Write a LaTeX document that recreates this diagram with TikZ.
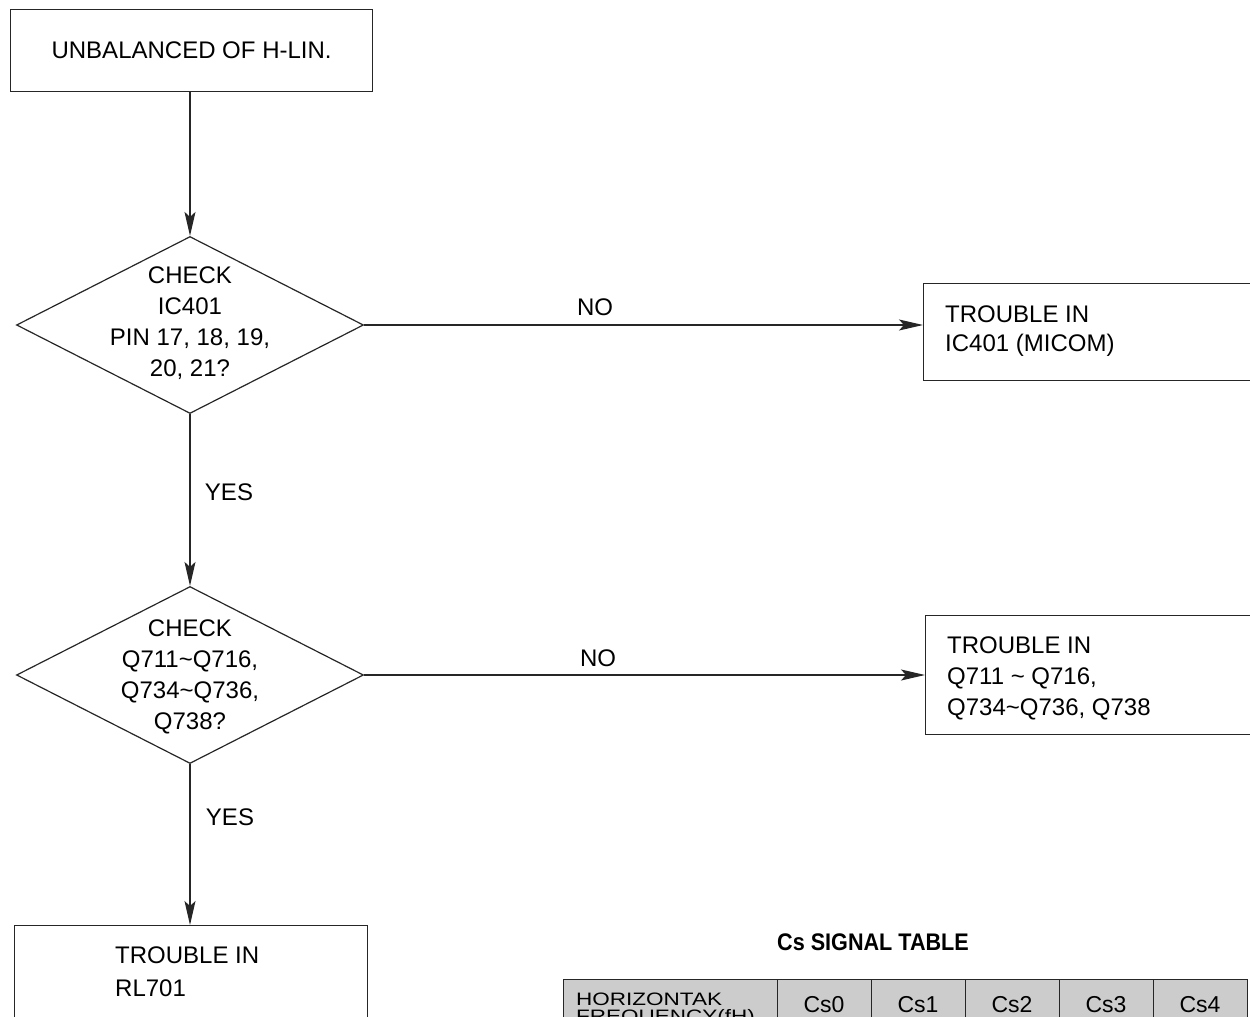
\documentclass[tikz,border=0pt]{standalone}
\usepackage{fontspec}
\setmainfont{Liberation Sans}
\usetikzlibrary{shapes.geometric,arrows.meta}
\begin{document}
\begin{tikzpicture}[x=1pt,y=-1pt,
  ln/.style={line width=1.2pt, draw=black!85},
  arr/.style={ln, -{Stealth[length=24pt,width=11pt,inset=5pt]}},
  box/.style={ln, rectangle, inner sep=0pt, anchor=north west},
  diam/.style={ln, diamond, inner sep=0pt, minimum width=347pt, minimum height=177pt},
  txt/.style={font=\fontsize{24}{31}\selectfont, inner sep=0pt, align=center},
  ltxt/.style={font=\fontsize{24}{30}\selectfont, inner sep=0pt, align=left, anchor=west},
  lbl/.style={font=\fontsize{24}{30}\selectfont, inner sep=0pt},
  cell/.style={ln, fill=black!20, rectangle, inner sep=0pt, anchor=north west, minimum height=90pt},
  celltxt/.style={font=\fontsize{23}{26}\selectfont, inner sep=0pt},
]
\useasboundingbox (0,0) rectangle (1250,1017);
\clip (0,0) rectangle (1250,1017);

% top box
\node[box, minimum width=362pt, minimum height=82pt] (top) at (10,9) {};
\node[lbl] (toptxt) at (top.center) {UNBALANCED OF H-LIN.};

% diamond 1
\node[diam] (d1) at (190,325) {};
\node[txt] (d1t) at (190,323) {CHECK\\IC401\\PIN 17, 18, 19,\\20, 21?};

% diamond 2
\node[diam] (d2) at (190,675) {};
\node[txt] (d2t) at (190,677) {CHECK\\Q711\textasciitilde Q716,\\Q734\textasciitilde Q736,\\Q738?};

% right boxes
\node[box, minimum width=345pt, minimum height=97pt] (r1) at (923,283) {};
\node[ltxt, font=\fontsize{24}{29}\selectfont] (r1t) at (945,331) {TROUBLE IN\\IC401 (MICOM)};

\node[box, minimum width=345pt, minimum height=119pt] (r2) at (925,615) {};
\node[ltxt, font=\fontsize{24}{31}\selectfont] (r2t) at (947,678) {TROUBLE IN\\Q711 \textasciitilde\ Q716,\\Q734\textasciitilde Q736, Q738};

% bottom box
\node[box, minimum width=353pt, minimum height=140pt] (b) at (14,925) {};
\node[ltxt, font=\fontsize{24}{33}\selectfont] (bt) at (115,971.5) {TROUBLE IN\\RL701};

% connectors
\draw[arr] (d1.north |- top.south) -- (d1.north);
\draw[arr] (d1.east) -- (d1.east -| r1.west);
\draw[arr] (d1.south) -- (d2.north);
\draw[arr] (d2.east) -- (d2.east -| r2.west);
\draw[arr] (d2.south) -- (d2.south |- b.north);

% labels
\node[lbl] (no1) at (595,307) {NO};
\node[lbl] (no2) at (598,658) {NO};
\node[lbl] (yes1) at (229,492) {YES};
\node[lbl] (yes2) at (230,817) {YES};

% table
\node[font=\bfseries\fontsize{24}{28}\selectfont, inner sep=0pt] (title) at (873,942) {\scalebox{0.9}[1]{Cs SIGNAL TABLE}};
\node[cell, minimum width=214pt] (c0) at (563,979) {};
\node[cell, minimum width=94pt] (c1) at (777,979) {};
\node[cell, minimum width=94pt] (c2) at (871,979) {};
\node[cell, minimum width=94pt] (c3) at (965,979) {};
\node[cell, minimum width=94pt] (c4) at (1059,979) {};
\node[cell, minimum width=94pt] (c5) at (1153,979) {};
\node[inner sep=0pt, anchor=north west, align=left, font=\fontsize{18}{17}\selectfont] (hf) at (576,993) {\scalebox{1.25}[1]{HORIZONTAK}\\\scalebox{1.25}[1]{FREQUENCY(fH)}};
\node[celltxt] (t1) at (824,1005) {Cs0};
\node[celltxt] (t2) at (918,1005) {Cs1};
\node[celltxt] (t3) at (1012,1005) {Cs2};
\node[celltxt] (t4) at (1106,1005) {Cs3};
\node[celltxt] (t5) at (1200,1005) {Cs4};
\end{tikzpicture}
\end{document}
